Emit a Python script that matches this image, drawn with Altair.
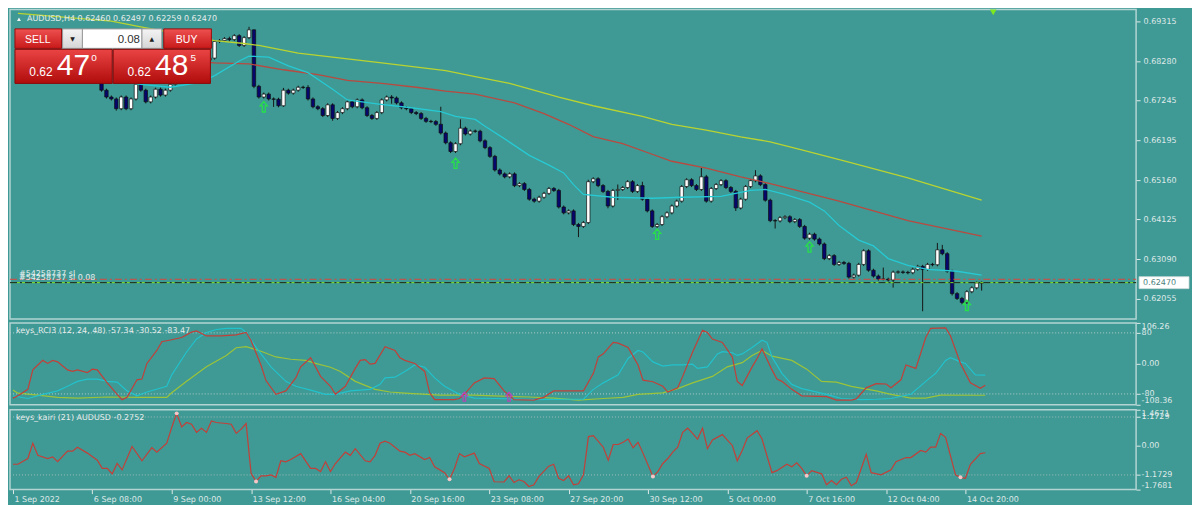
import altair as alt
import pandas as pd

# ---------------- data ----------------
TITLE = "AUDUSD,H4  0.62460 0.62497 0.62259 0.62470"
RCI_LABEL = "keys_RCI3 (12, 24, 48) -57.34 -30.52 -83.47"
KAIRI_LABEL = "keys_kairi (21) AUDUSD -0.2752"
TIME_LABELS = ["1 Sep 2022", "6 Sep 08:00", "9 Sep 00:00", "13 Sep 12:00", "16 Sep 04:00",
               "20 Sep 16:00", "23 Sep 08:00", "27 Sep 20:00", "30 Sep 12:00", "5 Oct 00:00",
               "7 Oct 16:00", "12 Oct 04:00", "14 Oct 20:00"]
TIME_TICK_BARS = [0, 16, 32, 48, 64, 80, 96, 112, 128, 144, 160, 176, 192]
PRICE_TICKS = [0.69315, 0.68280, 0.67245, 0.66195, 0.65160, 0.64125, 0.63090, 0.62055]
RCI_TICKS = [106.26, 80, 0, -80, -108.36]
KAIRI_TICKS = [1.4671, 1.1729, 0, -1.1729, -1.7681]

OPEN_FIRST = 0.67978
CLOSE = [
    0.67875, 0.67850, 0.68003, 0.68054, 0.68309, 0.68054, 0.67978, 0.67952, 0.68003, 0.67901,
    0.68105, 0.68080, 0.68105, 0.68182, 0.68054, 0.68029, 0.67748, 0.67518, 0.67339, 0.67288,
    0.67033, 0.67339, 0.67033, 0.67288, 0.67671, 0.67518, 0.67212, 0.67339, 0.67544, 0.67390,
    0.67518, 0.67671, 0.68156, 0.68514, 0.68258, 0.68360, 0.68309, 0.68156, 0.68309, 0.68360,
    0.68795, 0.68820, 0.68871, 0.68846, 0.68948, 0.68692, 0.68897, 0.69101, 0.67620, 0.67339,
    0.67416, 0.67288, 0.67280, 0.67110, 0.67518, 0.67441, 0.67518, 0.67595, 0.67590, 0.67288,
    0.67084, 0.67033, 0.66854, 0.67135, 0.66778, 0.66931, 0.67033, 0.67212, 0.67084, 0.67263,
    0.67058, 0.66854, 0.66778, 0.66931, 0.67263, 0.67339, 0.67314, 0.67186, 0.67058, 0.67033,
    0.66931, 0.66905, 0.66778, 0.66701, 0.66695, 0.66624, 0.66395, 0.66139, 0.65910, 0.66114,
    0.66522, 0.66369, 0.66446, 0.66440, 0.66190, 0.66012, 0.65782, 0.65425, 0.65322, 0.65246,
    0.65322, 0.65016, 0.65067, 0.64914, 0.64659, 0.64608, 0.64710, 0.64812, 0.64939, 0.64888,
    0.64454, 0.64301, 0.64352, 0.63995, 0.63944, 0.64046, 0.65118, 0.65195, 0.65016, 0.64863,
    0.64480, 0.64888, 0.64914, 0.64965, 0.65118, 0.64863, 0.65016, 0.64659, 0.64352, 0.63944,
    0.63995, 0.64199, 0.64301, 0.64480, 0.64608, 0.64991, 0.65169, 0.65016, 0.64914, 0.65246,
    0.64608, 0.64939, 0.65042, 0.65144, 0.64965, 0.64863, 0.64429, 0.64659, 0.64991, 0.65144,
    0.65271, 0.65042, 0.64633, 0.64097, 0.64090, 0.64174, 0.64199, 0.64071, 0.64123, 0.63944,
    0.63637, 0.63740, 0.63612, 0.63484, 0.63101, 0.63178, 0.62948, 0.62999, 0.62974, 0.62616,
    0.62667, 0.62948, 0.63306, 0.62795, 0.62642, 0.62565, 0.62560, 0.62540, 0.62744, 0.62750,
    0.62740, 0.62730, 0.62820, 0.62897, 0.62820, 0.62948, 0.62940, 0.63331, 0.63229, 0.62769,
    0.62182, 0.62055, 0.61952, 0.62233, 0.62335, 0.62460, 0.62470]

# wick lengths above / below the body, in pips (0.0001)
WICK_UP = [
    4, 4, 4, 4, 4, 4, 4, 4, 4, 4,
    4, 4, 4, 4, 4, 4, 4, 5, 4, 4,
    4, 4, 4, 4, 3, 4, 4, 4, 4, 4,
    4, 4, 4, 4, 4, 4, 4, 4, 4, 4,
    4, 4, 4, 5, 4, 4, 4, 8, 1, 4,
    4, 4, 4, 4, 6, 4, 4, 4, 4, 6,
    4, 4, 4, 4, 4, 4, 4, 4, 4, 4,
    4, 4, 4, 4, 4, 4, 5, 4, 4, 4,
    4, 4, 4, 4, 4, 4, 46, 4, 4, 4,
    23, 4, 4, 4, 4, 4, 4, 4, 4, 4,
    4, 4, 4, 4, 4, 4, 4, 4, 4, 4,
    4, 4, 4, 4, 4, 4, 5, 4, 4, 4,
    4, 4, 13, 4, 4, 4, 4, 10, 4, 4,
    4, 4, 4, 4, 4, 4, 4, 4, 4, 23,
    5, 4, 4, 4, 4, 4, 4, 4, 4, 4,
    15, 4, 4, 4, 4, 4, 4, 4, 4, 4,
    4, 4, 4, 4, 4, 4, 4, 4, 4, 4,
    4, 4, 4, 4, 4, 4, 30, 4, 4, 4,
    4, 4, 4, 4, 4, 4, 4, 18, 13, 4,
    4, 4, 4, 4, 4, 4, 3]
WICK_DN = [
    4, 4, 4, 4, 4, 4, 4, 4, 4, 4,
    4, 4, 4, 4, 4, 4, 4, 4, 4, 4,
    5, 4, 4, 4, 4, 4, 4, 4, 4, 4,
    4, 4, 4, 4, 4, 4, 4, 4, 4, 4,
    4, 4, 4, 5, 4, 4, 4, 4, 5, 4,
    4, 4, 20, 4, 3, 4, 4, 4, 4, 4,
    4, 4, 4, 4, 6, 4, 4, 4, 4, 4,
    4, 4, 4, 4, 4, 4, 15, 4, 4, 4,
    4, 4, 4, 4, 4, 4, 4, 4, 4, 4,
    4, 4, 4, 4, 4, 4, 4, 4, 4, 4,
    4, 4, 4, 4, 4, 4, 4, 4, 4, 4,
    4, 4, 4, 4, 28, 4, 4, 4, 4, 4,
    6, 4, 25, 4, 4, 4, 4, 4, 4, 4,
    4, 4, 4, 4, 4, 4, 4, 4, 4, 4,
    4, 4, 4, 4, 4, 4, 8, 4, 4, 4,
    4, 4, 4, 4, 20, 4, 4, 4, 4, 4,
    4, 4, 4, 4, 4, 4, 4, 4, 4, 4,
    4, 4, 4, 4, 4, 4, 3, 4, 20, 4,
    4, 4, 4, 4, 110, 4, 4, 4, 4, 4,
    5, 4, 5, 4, 4, 4, 20]

# moving averages: (bar, price)
CYAN_MA = [(0, 0.68360), (10, 0.68054), (18, 0.67799), (25, 0.67671), (31, 0.67595), (37, 0.67722),
           (40, 0.67901), (45, 0.68284), (47, 0.68412), (51, 0.68386), (55, 0.68156), (59, 0.67978),
           (64, 0.67544), (67, 0.67263), (73, 0.67161), (80, 0.67058), (86, 0.66956), (89, 0.66829),
           (93, 0.66752), (95, 0.66573), (99, 0.66241), (104, 0.65808), (108, 0.65552), (111, 0.65348),
           (113, 0.65042), (115, 0.64786), (121, 0.64710), (129, 0.64684), (135, 0.64710), (143, 0.64735),
           (149, 0.64888), (152, 0.64914), (156, 0.64786), (161, 0.64582), (164, 0.64352), (167, 0.63969),
           (171, 0.63586), (174, 0.63433), (177, 0.63101), (181, 0.62923), (185, 0.62820), (191, 0.62769),
           (196, 0.62667)]
RED_MA = [(0, 0.68565), (20, 0.68412), (40, 0.68233), (47, 0.68207), (54, 0.68054), (61, 0.67926),
          (67, 0.67773), (74, 0.67697), (81, 0.67595), (87, 0.67492), (93, 0.67416), (101, 0.67186),
          (107, 0.66905), (112, 0.66624), (117, 0.66300), (123, 0.66114), (128, 0.65884), (133, 0.65654),
          (140, 0.65476), (147, 0.65246), (153, 0.65067), (160, 0.64837), (167, 0.64608), (181, 0.64097),
          (196, 0.63689)]
YELLOW_MA = [(0, 0.69535), (19, 0.69331), (25, 0.69177), (40, 0.68820), (46, 0.68743), (49, 0.68692),
             (57, 0.68488), (74, 0.68233), (87, 0.68029), (93, 0.67875), (100, 0.67697), (110, 0.67339),
             (117, 0.67110), (127, 0.66829), (133, 0.66624), (140, 0.66471), (147, 0.66293), (153, 0.66165),
             (160, 0.65935), (169, 0.65629), (181, 0.65220), (196, 0.64633)]

ARROW_BARS = [50, 89, 130, 161, 193]
ARROW_PRICES = [0.67084, 0.65603, 0.63740, 0.63408, 0.61876]
SL_PRICE = 0.62558
ORDER_PRICE = 0.62470

RCI_FAST = [(0, -91), (1, -85), (3, -68), (4, -17), (6, 8), (7, 0), (8, 8), (9, 4), (11, -17), (12, -21),
            (13, -17), (15, -24), (16, -15), (17, -17), (19, -51), (21, -81), (22, -95), (23, -89), (25, -43),
            (26, -41), (27, 0), (29, 34), (30, 57), (32, 62), (34, 68), (36, 82), (37, 85), (39, 72), (42, 72),
            (45, 75), (47, 81), (48, 60), (50, -5), (51, -45), (53, -81), (55, -72), (57, -38), (58, -9),
            (60, 15), (61, -9), (62, -34), (64, -60), (65, -81), (67, -60), (69, -13), (70, 8), (71, 10),
            (72, -2), (73, 0), (75, 44), (77, 34), (78, 15), (79, 8), (81, 0), (83, -21), (84, -77), (85, -95),
            (89, -95), (90, -92), (91, -81), (93, -51), (95, -38), (97, -40), (99, -72), (101, -95), (105, -96),
            (107, -89), (109, -72), (115, -72), (117, -26), (118, 17), (119, 25), (121, 55), (122, 53),
            (124, 42), (126, -4), (127, -44), (129, -48), (131, -60), (132, -75), (134, -64), (135, -34),
            (137, 30), (139, 87), (140, 81), (141, 64), (143, 55), (145, 17), (146, -47), (147, -58), (149, -9),
            (150, 13), (151, 38), (153, -17), (154, -41), (155, -47), (157, -68), (159, -85), (164, -87),
            (166, -96), (169, -96), (170, -93), (172, -64), (174, -53), (176, -54), (177, -64), (179, -43),
            (180, -4), (182, -13), (184, 68), (185, 92), (188, 93), (189, 72), (191, 0), (193, -51),
            (195, -65), (196, -57.34)]
RCI_MID = [(0, -85), (3, -92), (6, -81), (9, -72), (11, -60), (13, -47), (15, -41), (17, -41), (19, -47),
           (21, -49), (23, -72), (25, -85), (27, -75), (31, -60), (32, -30), (35, 30), (37, 64), (39, 81),
           (41, 89), (43, 92), (46, 92), (47, 81), (49, 42), (52, -9), (55, -47), (57, -60), (60, -70),
           (63, -81), (65, -81), (68, -72), (70, -70), (72, -68), (74, -55), (75, -38), (77, -36), (79, -21),
           (81, -4), (83, -10), (85, -38), (87, -60), (90, -81), (93, -91), (97, -92), (105, -95), (111, -94),
           (115, -94), (117, -68), (119, -51), (122, -30), (124, 13), (126, 34), (127, 30), (129, 4),
           (131, -7), (133, -4), (135, -4), (137, -2), (138, -13), (140, -9), (142, 25), (143, 31), (145, 28),
           (146, 21), (147, 25), (149, 42), (151, 61), (152, 55), (153, 17), (155, -26), (157, -55),
           (159, -66), (161, -72), (164, -81), (167, -92), (171, -95), (174, -94), (177, -92), (181, -81),
           (184, -47), (186, -26), (188, 8), (189, 15), (191, 4), (192, 0), (194, -30), (196, -30.52)]
RCI_SLOW = [(0, -70), (1, -78), (5, -83), (9, -89), (13, -91), (19, -88), (26, -89), (31, -89), (32, -77),
            (35, -47), (39, -9), (43, 21), (45, 41), (47, 44), (50, 32), (53, 17), (56, 11), (59, 8), (61, 0),
            (64, -10), (66, -21), (69, -47), (73, -68), (76, -75), (79, -78), (86, -83), (93, -83), (97, -85),
            (104, -88), (109, -91), (114, -96), (119, -92), (123, -89), (126, -81), (131, -77), (134, -66),
            (137, -51), (141, -34), (144, -9), (147, 2), (149, 21), (151, 34), (153, 19), (157, 8),
            (160, -15), (163, -47), (166, -49), (169, -60), (174, -72), (177, -81), (181, -91), (184, -91),
            (187, -83), (196, -83.47)]
RCI_MARK_BARS = [91, 100]
RCI_MARK_VALUE = -87

KAIRI = [(0, -0.74), (1, -0.74), (3, -0.51), (4, 0.11), (5, -0.38), (7, -0.51), (8, -0.44), (9, -0.64),
         (11, -0.21), (12, -0.21), (13, -0.05), (15, -0.29), (17, -0.58), (18, -0.91), (19, -0.91),
         (20, -1.13), (21, -0.71), (22, -0.97), (24, -0.02), (26, -0.60), (28, -0.07), (29, -0.25),
         (31, 0.11), (32, 0.75), (33, 1.32), (34, 0.77), (35, 0.95), (36, 0.88), (37, 0.55), (38, 0.72),
         (39, 0.55), (40, 1.01), (41, 0.95), (43, 0.91), (44, 0.88), (45, 0.51), (46, 0.68), (47, 0.91),
         (48, -1.11), (49, -1.44), (50, -1.21), (51, -1.21), (52, -1.17), (53, -1.27), (54, -0.60),
         (55, -0.64), (56, -0.55), (58, -0.31), (60, -0.91), (61, -0.91), (62, -1.04), (63, -0.64),
         (64, -1.04), (65, -0.71), (67, -0.25), (68, -0.38), (69, -0.11), (71, -0.60), (72, -0.64),
         (73, -0.38), (74, 0.11), (75, 0.19), (76, 0.11), (78, -0.21), (79, -0.25), (80, -0.38),
         (81, -0.31), (83, -0.55), (84, -0.47), (85, -0.84), (87, -1.08), (88, -1.35), (89, -0.91),
         (90, -0.31), (91, -0.44), (93, -0.29), (94, -0.71), (96, -0.91), (97, -1.45), (99, -1.46),
         (100, -1.21), (101, -1.48), (102, -1.37), (103, -1.44), (104, -1.64), (105, -1.57), (106, -1.24),
         (108, -0.82), (109, -0.74), (110, -1.31), (111, -1.40), (112, -1.21), (113, -1.57), (114, -1.53),
         (115, -1.17), (116, 0.38), (117, 0.42), (119, -0.05), (120, -0.58), (121, 0.06), (122, 0.06),
         (123, 0.15), (124, 0.28), (125, -0.07), (126, 0.15), (127, -0.29), (129, -1.24), (130, -1.04),
         (131, -0.71), (132, -0.51), (133, -0.25), (134, -0.05), (135, 0.55), (136, 0.72), (137, 0.51),
         (138, 0.28), (139, 0.72), (140, -0.11), (141, 0.24), (143, 0.46), (145, 0.02), (146, -0.60),
         (147, -0.18), (148, 0.32), (150, 0.62), (151, 0.28), (153, -1.08), (154, -1.00), (156, -0.74),
         (157, -0.84), (158, -0.68), (159, -0.91), (160, -1.21), (161, -1.00), (163, -1.13), (164, -1.57),
         (165, -1.40), (166, -1.57), (167, -1.35), (168, -1.27), (169, -1.61), (170, -1.48), (172, -0.34),
         (173, -1.08), (175, -1.17), (177, -0.97), (178, -0.64), (180, -0.47), (181, -0.47), (183, -0.18),
         (184, -0.25), (185, -0.05), (186, -0.05), (187, 0.51), (188, 0.35), (190, -1.17), (191, -1.27),
         (192, -1.31), (193, -0.74), (195, -0.31), (196, -0.2752)]
KAIRI_DOT_BARS = [33, 49, 88, 129, 160, 191]

# ---------------- styling ----------------
W, H1, H2, H3 = 1128, 310, 82, 80
SX, SY = W / 1135.0, H1 / 318.0
BG = "#3f9994"
AXC = "#dfeaea"
FONT = "DejaVu Sans"
XS = alt.Scale(domain=[-0.6, 226.4], nice=False, zero=False)
YS_MAIN = alt.Scale(domain=[0.61519, 0.69637], nice=False, zero=False)
YS_RCI = alt.Scale(domain=[-108.36, 106.26], nice=False, zero=False)
YS_K = alt.Scale(domain=[-1.7681, 1.4671], nice=False, zero=False)

MAIN_AXIS = alt.Axis(orient="right", values=PRICE_TICKS, format=".5f", title=None, tickSize=4,
                     labelPadding=3, labelOverlap=False, grid=False, domain=False)
RCI_AXIS = alt.Axis(orient="right", values=RCI_TICKS, title=None, tickSize=4, labelPadding=1,
                    labelOverlap=False, grid=False, domain=False, labelFlush=True,
                    labelExpr="(datum.value < 0 ? '-' : '') + (abs(datum.value) == 80 ? '80' : format(abs(datum.value), '.2f'))")
K_AXIS = alt.Axis(orient="right", values=KAIRI_TICKS, title=None, tickSize=4, labelPadding=1,
                  labelOverlap=False, grid=False, domain=False, labelFlush=True,
                  labelExpr="(datum.value < 0 ? '-' : '') + (datum.value == 0 ? '0.00' : format(abs(datum.value), '.4f'))")
time_expr = "[" + ",".join("'%s'" % s for s in TIME_LABELS) + "][round(datum.value / 16)]"
TIME_AXIS = alt.Axis(orient="bottom", values=TIME_TICK_BARS, labelExpr=time_expr, title=None,
                     labelAlign="left", labelOffset=1, labelPadding=2, tickSize=4, labelOverlap=False,
                     labelFlush=False, grid=False, domain=False)

ONE = pd.DataFrame({"k": [0]})


def txt(x, y, s, size=8, color=AXC, align="left", baseline="middle", font=FONT, weight="normal"):
    return alt.Chart(ONE).mark_text(text=s, align=align, baseline=baseline, fontSize=size, color=color,
                                    font=font, fontWeight=weight).encode(x=alt.value(x), y=alt.value(y))


def box(x1, y1, x2, y2, fill, stroke=None):
    kw = dict(fill=fill)
    if stroke:
        kw.update(stroke=stroke, strokeWidth=1)
    return alt.Chart(ONE).mark_rect(**kw).encode(
        x=alt.value(x1 * SX), x2=alt.value(x2 * SX), y=alt.value(y1 * SY), y2=alt.value(y2 * SY))


def grad(c1, c2):
    return {"gradient": "linear", "x1": 0, "y1": 0, "x2": 0, "y2": 1,
            "stops": [{"offset": 0, "color": c1}, {"offset": 1, "color": c2}]}


# ---------------- candle table ----------------
rows = []
prev = OPEN_FIRST
for i, c in enumerate(CLOSE):
    o = prev
    rows.append(dict(bar=i, open=o, close=c,
                     high=max(o, c) + WICK_UP[i] * 0.0001,
                     low=min(o, c) - WICK_DN[i] * 0.0001,
                     bull=bool(c >= o)))
    prev = c
candles = pd.DataFrame(rows)

X = alt.X("bar:Q", scale=XS, axis=None)


def YM(field):
    return alt.Y(field, type="quantitative", scale=YS_MAIN, axis=MAIN_AXIS)


def ma_df(pairs):
    return pd.DataFrame(pairs, columns=["bar", "price"])


wicks = alt.Chart(candles).mark_rule(color="#161616", strokeWidth=1).encode(
    x=X, y=YM("low"), y2="high")
bodies = alt.Chart(candles).mark_bar(size=3.4, stroke="#101010", strokeWidth=0.7).encode(
    x=X, y=YM("open"), y2="close",
    fill=alt.condition("datum.bull", alt.value("#ffffff"), alt.value("#06066c")))

yellow = alt.Chart(ma_df(YELLOW_MA)).mark_line(color="#b9d431", strokeWidth=1.3).encode(x=X, y=YM("price"))
red = alt.Chart(ma_df(RED_MA)).mark_line(color="#b94a40", strokeWidth=1.3).encode(x=X, y=YM("price"))
cyan = alt.Chart(ma_df(CYAN_MA)).mark_line(color="#27c9d3", strokeWidth=1.3).encode(x=X, y=YM("price"))

sl_line = alt.Chart(pd.DataFrame({"p": [SL_PRICE]})).mark_rule(
    color="#d9473f", strokeWidth=1, strokeDash=[7, 3, 2, 3]).encode(
    y=YM("p"), x=alt.value(0), x2=alt.value(W))
order_green = alt.Chart(pd.DataFrame({"p": [ORDER_PRICE]})).mark_rule(
    color="#7fe020", strokeWidth=1).encode(y=YM("p"), x=alt.value(0), x2=alt.value(W))
order_dark = alt.Chart(pd.DataFrame({"p": [ORDER_PRICE]})).mark_rule(
    color="#162020", strokeWidth=1, strokeDash=[7, 3, 2, 3]).encode(
    y=YM("p"), x=alt.value(0), x2=alt.value(W))
sl_text = alt.Chart(pd.DataFrame({"p": [SL_PRICE]})).mark_text(
    text="#54258737 sl", align="left", baseline="bottom", dy=-1, fontSize=8, font=FONT,
    color="#e6eeee").encode(x=alt.value(9), y=YM("p"))
order_text = alt.Chart(pd.DataFrame({"p": [ORDER_PRICE]})).mark_text(
    text="#54258737 sl 0.08", align="left", baseline="bottom", dy=-1, fontSize=8, font=FONT,
    color="#e6eeee").encode(x=alt.value(9), y=YM("p"))

ARROW = "M0,-1 L0.7,-0.15 L0.28,-0.15 L0.28,1 L-0.28,1 L-0.28,-0.15 L-0.7,-0.15 Z"
arrows = alt.Chart(pd.DataFrame({"bar": ARROW_BARS, "p": ARROW_PRICES})).mark_point(
    shape=ARROW, filled=False, stroke="#27e04a", strokeWidth=1.3, size=110, opacity=1).encode(
    x=X, y=YM("p"))

price_box = alt.Chart(pd.DataFrame({"p": [ORDER_PRICE]})).mark_point(
    shape="M-2.5,-0.6 L2.5,-0.6 L2.5,0.6 L-2.5,0.6 Z", filled=True, fill="#ffffff",
    stroke="#c8d8d8", strokeWidth=0.8, size=400, opacity=1).encode(x=alt.value(W + 28), y=YM("p"))
price_box_text = alt.Chart(pd.DataFrame({"p": [ORDER_PRICE]})).mark_text(
    text="0.62470", align="left", baseline="middle", fontSize=8, font=FONT, color="#4e7f7d").encode(
    x=alt.value(W + 7), y=YM("p"))

shift_marker = alt.Chart(ONE).mark_point(shape="triangle-down", filled=True, color="#7ee81e",
                                         size=45, opacity=1).encode(x=alt.value(991 * SX), y=alt.value(3))
title_icon = alt.Chart(ONE).mark_point(shape="triangle-up", filled=True, color="#f0f4f4",
                                       size=16, opacity=1).encode(x=alt.value(9), y=alt.value(10 * SY))
title_text = txt(17, 10 * SY, TITLE, size=8, color="#e8eeee")

# trading panel
RED = grad("#ea4444", "#b10c0c")
RED_BTN = grad("#ee5050", "#c81a1a")
GREY = grad("#f4f4f4", "#d6d6d6")
PF = "Liberation Sans"
panel = [
    box(5, 20, 52, 40, RED_BTN, "#9a0c0c"),
    box(155, 20, 203, 40, RED_BTN, "#9a0c0c"),
    box(53, 20, 73, 40, GREY, "#9a9a9a"),
    box(73, 20, 133, 40, "#ffffff", "#9a9a9a"),
    box(133, 20, 153, 40, GREY, "#9a9a9a"),
    box(5, 41, 103, 76, RED, "#8a0808"),
    box(104, 41, 202, 76, RED, "#8a0808"),
    txt(28 * SX, 31 * SY, "SELL", size=10.5, color="#ffffff", align="center", font=PF),
    txt(178 * SX, 31 * SY, "BUY", size=10.5, color="#ffffff", align="center", font=PF),
    txt(63 * SX, 30 * SY, "▼", size=6, color="#202020", align="center"),
    txt(143 * SX, 30 * SY, "▲", size=6, color="#202020", align="center"),
    txt(131 * SX, 31 * SY, "0.08", size=11.5, color="#303030", align="right", font=PF),
    txt(43 * SX, 64 * SY, "0.62", size=12, color="#ffffff", align="right", font=PF),
    txt(64 * SX, 58 * SY, "47", size=30, color="#ffffff", align="center", font=PF),
    txt(82 * SX, 50 * SY, "0", size=10, color="#ffffff", align="left", font=PF),
    txt(142 * SX, 64 * SY, "0.62", size=12, color="#ffffff", align="right", font=PF),
    txt(163 * SX, 58 * SY, "48", size=30, color="#ffffff", align="center", font=PF),
    txt(182 * SX, 50 * SY, "5", size=10, color="#ffffff", align="left", font=PF),
]

main = alt.layer(
    wicks, bodies, yellow, red, cyan, sl_line, order_green, order_dark, sl_text, order_text,
    arrows, price_box, price_box_text, shift_marker, title_icon, title_text, *panel
).properties(width=W, height=H1)

# ---------------- RCI panel ----------------


def YR(field):
    return alt.Y(field, type="quantitative", scale=YS_RCI, axis=RCI_AXIS)


def ser(pairs):
    return pd.DataFrame(pairs, columns=["bar", "v"])


rci_levels = alt.Chart(pd.DataFrame({"v": [80, -80]})).mark_rule(
    color="#b3cfcd", strokeWidth=1, strokeDash=[1, 2]).encode(y=YR("v"), x=alt.value(0), x2=alt.value(W))
rci_slow = alt.Chart(ser(RCI_SLOW)).mark_line(color="#9cc43a", strokeWidth=1.2).encode(x=X, y=YR("v"))
rci_mid = alt.Chart(ser(RCI_MID)).mark_line(color="#22c2cc", strokeWidth=1.2).encode(x=X, y=YR("v"))
rci_fast = alt.Chart(ser(RCI_FAST)).mark_line(color="#c2403a", strokeWidth=1.2).encode(x=X, y=YR("v"))
rci_marks = alt.Chart(pd.DataFrame({"bar": RCI_MARK_BARS, "v": [RCI_MARK_VALUE] * len(RCI_MARK_BARS)})).mark_point(
    shape=ARROW, filled=False, stroke="#b646b6", strokeWidth=1.2, size=80, opacity=1).encode(x=X, y=YR("v"))
rci_label = txt(6, 8, RCI_LABEL, size=8, color="#e8eeee")

rci = alt.layer(rci_levels, rci_slow, rci_mid, rci_fast, rci_marks, rci_label).properties(width=W, height=H2)

# ---------------- Kairi panel ----------------
XT = alt.X("bar:Q", scale=XS, axis=TIME_AXIS)


def YK(field):
    return alt.Y(field, type="quantitative", scale=YS_K, axis=K_AXIS)


kdf = ser(KAIRI)
k_levels = alt.Chart(pd.DataFrame({"v": [1.1729, -1.1729]})).mark_rule(
    color="#9fbfbd", strokeWidth=1, strokeDash=[1, 2]).encode(y=YK("v"), x=alt.value(0), x2=alt.value(W))
k_line = alt.Chart(kdf).mark_line(color="#c2403a", strokeWidth=1.2).encode(x=XT, y=YK("v"))
k_dots = alt.Chart(kdf[kdf["bar"].isin(KAIRI_DOT_BARS)]).mark_point(
    filled=True, color="#f6c6c6", size=16, opacity=1).encode(x=XT, y=YK("v"))
k_label = txt(6, 8, KAIRI_LABEL, size=8, color="#e8eeee")

kairi = alt.layer(k_levels, k_line, k_dots, k_label).properties(width=W, height=H3)

chart = alt.vconcat(main, rci, kairi, spacing=1).configure(
    background=BG, padding={"left": 0, "right": 0, "top": 0, "bottom": 0}
).configure_view(
    stroke="#b2d5d3", strokeWidth=1.5, fill=BG
).configure_axis(
    labelColor=AXC, tickColor=AXC, labelFont=FONT, labelFontSize=8
)

chart.save("out.html", embed_options={"renderer": "svg", "actions": False})
